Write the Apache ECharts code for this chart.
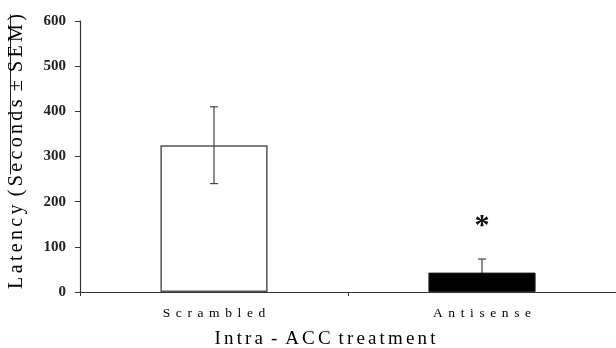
<!DOCTYPE html>
<html>
<head>
<meta charset="utf-8">
<script src="https://cdn.jsdelivr.net/npm/echarts@6/dist/echarts.min.js"></script>
<style>
  html, body { margin: 0; padding: 0; background: #fff; }
  #chart { width: 616px; height: 348px; }
</style>
</head>
<body>
<div id="chart"></div>
<script>
// spaced-out letters, like the original figure
const spaced = (s, gap, sep) => s.split(' ').map(w => w.split('').join(gap)).join(sep || ' ');

const categories = ['Scrambled', 'Antisense'];
const latency = [325, 43];
const sem = [85, 30];
const marks = ['', '*'];
const barFill = ['#fff', '#000'];
const yTicks = [0, 100, 200, 300, 400, 500, 600];

const serif = '"Liberation Serif", "DejaVu Serif", serif';
const chart = echarts.init(document.getElementById('chart'));

chart.setOption({
    animation: false,
    backgroundColor: '#fff',
    grid: { left: 80, right: 0, top: 21, bottom: 56, containLabel: false, outerBoundsMode: 'none' },
    xAxis: {
        type: 'category',
        data: categories,
        name: spaced('Intra - ACC treatment', '\u2006', ' \u2006'),
        nameLocation: 'middle',
        nameGap: 38,
        nameTextStyle: { fontFamily: serif, fontSize: 19, color: '#000', padding: [0, 46, 0, 0] },
        axisLine: { lineStyle: { color: '#333', width: 1.2 } },
        axisTick: { show: true, length: 4, lineStyle: { color: '#333' } },
        axisLabel: {
            fontFamily: serif, fontSize: 13.5, color: '#000', margin: 14,
            formatter: v => spaced(v, '\u2005\u2006')
        }
    },
    yAxis: {
        type: 'value',
        min: yTicks[0],
        max: yTicks[yTicks.length - 1],
        interval: 100,
        name: spaced('Latency (Seconds ± SEM)', '\u2006', ' \u2006'),
        nameLocation: 'middle',
        nameGap: 53,
        nameTextStyle: { fontFamily: serif, fontSize: 20, color: '#000', padding: [0, 0, 0, 10] },
        axisLine: { show: true, lineStyle: { color: '#333', width: 1.2 } },
        axisTick: { show: true, length: 5, lineStyle: { color: '#333' } },
        splitLine: { show: false },
        axisLabel: { fontFamily: serif, fontSize: 15, fontWeight: 'bold', color: '#222', margin: 14 }
    },
    graphic: [{
        // overbar drawn over the "Seconds ± SEM" part of the axis title
        type: 'line', left: 8, top: 12,
        shape: { x1: 0, y1: 0, x2: 0, y2: 160 },
        style: { stroke: '#222', lineWidth: 1 }
    }],
    series: [
        {
            type: 'bar',
            data: latency.map((v, i) => ({
                value: v,
                itemStyle: i === 0
                    ? { color: barFill[i], borderColor: '#555', borderWidth: 1.5 }
                    : { color: barFill[i], borderColor: '#222', borderWidth: 1 }
            })),
            barWidth: '40%',
            z: 2
        },
        {
            type: 'custom',
            z: 3,
            data: latency.map((v, i) => [i, v - sem[i], v + sem[i], v]),
            renderItem: (params, api) => {
                const lo = api.coord([api.value(0), api.value(1)]);
                const hi = api.coord([api.value(0), api.value(2)]);
                const mid = api.coord([api.value(0), api.value(3)]);
                const cap = 4;
                const inner = barFill[params.dataIndex] === '#000' ? '#000' : '#444';
                return {
                    type: 'group',
                    children: [
                        { type: 'line', shape: { x1: hi[0], y1: hi[1], x2: mid[0], y2: mid[1] }, style: { stroke: '#444', lineWidth: 1.2 } },
                        { type: 'line', shape: { x1: mid[0], y1: mid[1], x2: lo[0], y2: lo[1] }, style: { stroke: inner, lineWidth: 1.2 } },
                        { type: 'line', shape: { x1: hi[0] - cap, y1: hi[1], x2: hi[0] + cap, y2: hi[1] }, style: { stroke: '#444', lineWidth: 1.2 } },
                        { type: 'line', shape: { x1: lo[0] - cap, y1: lo[1], x2: lo[0] + cap, y2: lo[1] }, style: { stroke: inner, lineWidth: 1.2 } }
                    ]
                };
            }
        },
        {
            type: 'custom',
            z: 4,
            data: latency.map((v, i) => [i, v + sem[i]]),
            renderItem: (params, api) => {
                const p = api.coord([api.value(0), api.value(1)]);
                return {
                    type: 'text',
                    style: {
                        x: p[0], y: p[1] - 48, text: marks[params.dataIndex],
                        fontFamily: serif, fontSize: 30, fontWeight: 'bold', fill: '#111',
                        align: 'center', verticalAlign: 'top'
                    }
                };
            }
        }
    ]
});
</script>
</body>
</html>
